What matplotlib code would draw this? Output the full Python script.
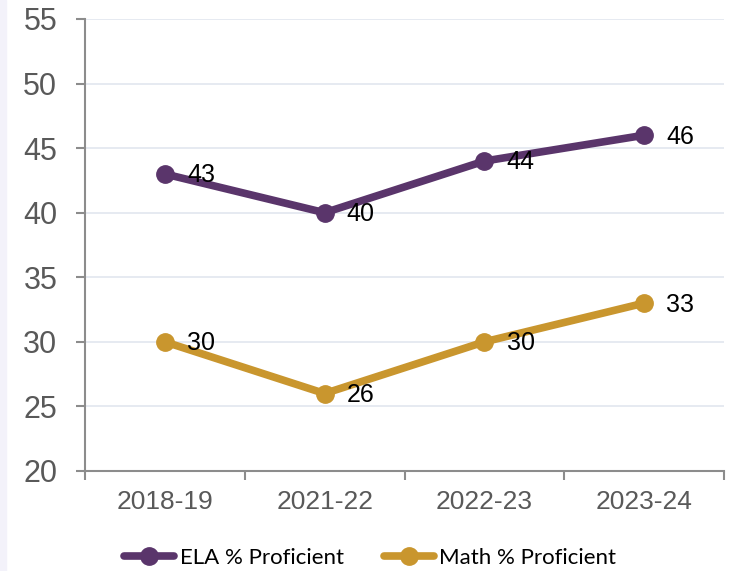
import matplotlib
matplotlib.use('Agg')
from matplotlib import pyplot as plt
from matplotlib.patches import Rectangle

# данные
years = ['2018-19', '2021-22', '2022-23', '2023-24']
ela = [43, 40, 44, 46]
math_vals = [30, 26, 30, 33]
y_ticks = [20, 25, 30, 35, 40, 45, 50, 55]

PURPLE = '#5A356B'
GOLD = '#C9962E'
GRAY = '#8C8C8C'
TXT = '#595959'

plt.rcParams['font.family'] = ['Liberation Sans', 'DejaVu Sans']

fig = plt.figure(figsize=(7.33, 5.71), dpi=100)
fig.patches.append(Rectangle((0, 0), 6 / 733, 1, transform=fig.transFigure,
                             color='#F3F2FA', zorder=0))
ax = fig.add_axes([85 / 733, 100 / 571, 639 / 733, 452 / 571])

x = range(len(years))
ax.plot(x, ela, color=PURPLE, lw=5.5, marker='o', ms=12.5, label='ELA % Proficient',
        solid_capstyle='round', zorder=3)
ax.plot(x, math_vals, color=GOLD, lw=5.5, marker='o', ms=12.5, label='Math % Proficient',
        solid_capstyle='round', zorder=3)

# подписи значений
for xs, ys in [(x, ela), (x, math_vals)]:
    for xi, yi in zip(xs, ys):
        ax.annotate(str(yi), (xi, yi), xytext=(16, -1), textcoords='offset points',
                    ha='left', va='center', fontsize=18, color='black', zorder=4)

ax.set_xlim(-0.5, len(years) - 0.5)
ax.set_ylim(20, 55)
ax.set_yticks(y_ticks)
ax.set_yticklabels([str(v) for v in y_ticks])
ax.tick_params(axis='y', labelsize=22, colors=GRAY, labelcolor=TXT, length=6.5,
               width=1.5, pad=13.5)

# метки категорий по центру, засечки между категориями
ax.set_xticks([i - 0.5 for i in range(len(years) + 1)])
ax.set_xticklabels([])
ax.set_xticks(list(x), minor=True)
ax.set_xticklabels(years, minor=True)
ax.tick_params(axis='x', which='major', colors=GRAY, length=6.5, width=1.5)
ax.tick_params(axis='x', which='minor', length=0, labelsize=19, labelcolor=TXT, pad=14)

ax.grid(axis='y', color='#E1E6EF', lw=1.2)
ax.set_axisbelow(True)
for s in ['top', 'right']:
    ax.spines[s].set_visible(False)
for s in ['left', 'bottom']:
    ax.spines[s].set_color(GRAY)
    ax.spines[s].set_linewidth(1.5)

h, l = ax.get_legend_handles_labels()
fig.legend(h, l, loc='center', bbox_to_anchor=(0.505, 0.023), ncol=2, frameon=False,
           prop={'family': 'Lato', 'size': 16}, handlelength=2.25, columnspacing=1.8,
           handletextpad=0.25)

fig.savefig('out.png', dpi=100)
